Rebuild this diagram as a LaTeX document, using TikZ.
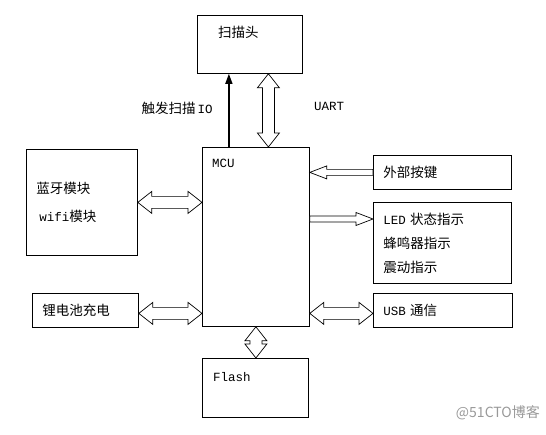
\documentclass[tikz,border=0pt]{standalone}
\usepackage{fontspec}
\setmainfont{Liberation Mono}
\newfontfamily\cjk{Noto Sans CJK SC}
\usetikzlibrary{calc,arrows.meta}

\newcommand{\zh}[1]{{\cjk\fontsize{13.5}{16}\selectfont #1}}

% hollow arrow with two heads, from #1 to #2
\newcommand{\dblarrow}[2]{%
  \draw[hollow] (#1)
    -- ($($(#1)!14pt!(#2)$)!11pt!90:(#2)$)
    -- ($($(#1)!14pt!(#2)$)!6pt!90:(#2)$)
    -- ($($(#2)!14pt!(#1)$)!6pt!-90:(#1)$)
    -- ($($(#2)!14pt!(#1)$)!11pt!-90:(#1)$)
    -- (#2)
    -- ($($(#2)!14pt!(#1)$)!11pt!90:(#1)$)
    -- ($($(#2)!14pt!(#1)$)!6pt!90:(#1)$)
    -- ($($(#1)!14pt!(#2)$)!6pt!-90:(#2)$)
    -- ($($(#1)!14pt!(#2)$)!11pt!-90:(#2)$)
    -- cycle;}
% hollow arrow with one head at #2
\newcommand{\onearrow}[2]{%
  \draw[hollow] (#2)
    -- ($($(#2)!17pt!(#1)$)!6.5pt!-90:(#1)$)
    -- ($($(#2)!17pt!(#1)$)!3pt!-90:(#1)$)
    -- ($(#1)!3pt!90:(#2)$)
    -- ($(#1)!3pt!-90:(#2)$)
    -- ($($(#2)!17pt!(#1)$)!3pt!90:(#1)$)
    -- ($($(#2)!17pt!(#1)$)!6.5pt!90:(#1)$)
    -- cycle;}

\tikzset{
  box/.style={draw, line width=0.8pt, anchor=north west, inner xsep=10pt,
    inner ysep=0pt, align=left, font=\fontsize{12.5}{14}\selectfont},
  txt/.style={inner sep=0pt, font=\fontsize{12.5}{14}\selectfont},
  hollow/.style={draw, line width=0.7pt, fill=white, line join=miter},
}

\begin{document}
\begin{tikzpicture}[x=1pt, y=-1pt]
\useasboundingbox (0,0) rectangle (546,435);

% boxes
\node[box, minimum width=105, minimum height=58] (scan) at (197,15) {};
\node[box, minimum width=107, minimum height=179] (mcu) at (202,147) {};
\node[box, minimum width=106, minimum height=59] (flash) at (202,358) {};
\node[box, minimum width=111, minimum height=106, text width=91,
  font=\fontsize{12.5}{28}\selectfont] (bt) at (26,149)
  {\zh{蓝牙模块}\\\hspace*{3pt}wifi\zh{模块}};
\node[box, minimum width=106, minimum height=34, text width=86] (bat) at (32,293)
  {\zh{锂电池充电}};
\node[box, minimum width=138, minimum height=34, text width=118] (key) at (373,155)
  {\zh{外部按键}};
\node[box, minimum width=138, minimum height=81, text width=118,
  font=\fontsize{12.5}{24}\selectfont] (led) at (373,202)
  {LED \zh{状态指示}\\\zh{蜂鸣器指示}\\\zh{震动指示}};
\node[box, minimum width=139, minimum height=34, text width=119] (usb) at (373,293)
  {USB \zh{通信}};

% texts at the top of the boxes
\node[txt, anchor=west] (scan-t) at ($(scan.north west)+(21,17)$) {\zh{扫描头}};
\node[txt, anchor=west] (mcu-t) at ($(mcu.north west)+(10,16)$) {MCU};
\node[txt, anchor=west] (flash-t) at ($(flash.north west)+(11,19)$) {Flash};

% trigger line
\coordinate (trig) at ($(mcu.north)+(-27,0)$);
\draw[line width=1.4pt, -{Triangle[width=7pt,length=10pt]}] (trig) -- (trig |- scan.south);
\node[txt, anchor=east] (trig-l) at ($(trig)+(-16,-39)$) {\zh{触发扫描}\,IO};

% UART
\coordinate (uart) at ($(scan.south)+(18.5,0)$);
\dblarrow{uart}{uart |- mcu.north}
\node[txt, anchor=west] (uart-l) at ($(scan.south east)+(11,33)$) {UART};

% side links
\dblarrow{bt.east}{bt.east -| mcu.west}
\coordinate (bat-a) at ($(bat.east)+(0,3)$);
\dblarrow{bat-a}{bat-a -| mcu.west}
\coordinate (usb-a) at ($(usb.west)+(0,3)$);
\dblarrow{usb-a -| mcu.east}{usb-a}
\onearrow{key.west}{key.west -| mcu.east}
\coordinate (led-a) at ($(led.north west)+(0,17)$);
\onearrow{led-a -| mcu.east}{led-a}
\dblarrow{mcu.south}{mcu.south |- flash.north}

% watermark
\node[inner sep=0pt, text=black!40, anchor=east] (mark) at (540,413)
  {\cjk\fontsize{14}{16}\selectfont @51CTO博客};
\end{tikzpicture}
\end{document}
